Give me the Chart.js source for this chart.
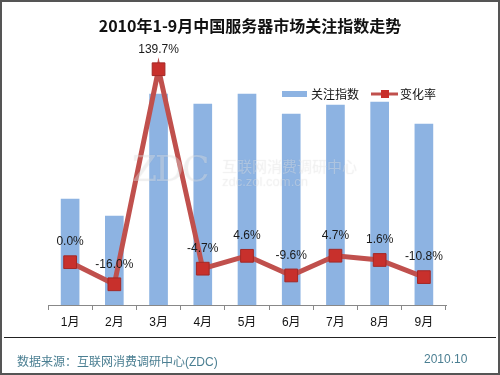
<!DOCTYPE html>
<html>
<head>
<meta charset="utf-8">
<script src="https://cdn.jsdelivr.net/npm/chart.js@4.4.0/dist/chart.umd.min.js"></script>
<style>
  html, body { margin: 0; padding: 0; background: #fff; }
  #box { position: relative; width: 500px; height: 375px; box-sizing: border-box; border: 2px solid #555; background: #fff; overflow: hidden; }
  #chart1 { position: absolute; left: 0; top: 0; }
  .txt { position: absolute; white-space: nowrap; font-family: "Liberation Sans", "Noto Sans CJK SC", sans-serif; }
  #title { left: 0; width: 496px; top: 11px; text-align: center; font-size: 16px; font-weight: bold; color: #111; font-family: "Noto Sans CJK SC", sans-serif; }
  #sep { position: absolute; left: 2px; top: 335px; width: 492px; height: 0; border-top: 1px solid #222; }
  #src { left: 15px; top: 350px; font-size: 12px; color: #4b7f92; }
  #date { left: 422px; top: 350px; font-size: 12px; color: #4b7f92; }
  .wm { color: rgba(255,255,255,0.35); text-shadow: 0 0 1px rgba(0,0,0,0.10); }
</style>
</head>
<body>
<div id="box">
  <canvas id="chart1" width="496" height="371"></canvas>
  <div class="txt wm" style="left:130px; top:146px; font-size:36px; font-family:'DejaVu Serif', serif; letter-spacing:-2px;">ZDC</div>
  <div class="txt wm" style="left:220px; top:153px; font-size:15px;">互联网消费调研中心</div>
  <div class="txt wm" style="left:220px; top:172px; font-size:13px;">zdc.zol.com.cn</div>
  <div id="title" class="txt">2010年1-9月中国服务器市场关注指数走势</div>
  <div id="sep"></div>
  <div id="src" class="txt">数据来源：互联网消费调研中心(ZDC)</div>
  <div id="date" class="txt">2010.10</div>
</div>
<script>
// months, index values and change rates
const meses = ['1月', '2月', '3月', '4月', '5月', '6月', '7月', '8月', '9月'];
const indice = [106, 89, 211, 201, 211, 191, 200, 203, 181];
const tasa = [0.0, -16.0, 139.7, -4.7, 4.6, -9.6, 4.7, 1.6, -10.8];
const etiquetas = ['0.0%', '-16.0%', '139.7%', '-4.7%', '4.6%', '-9.6%', '4.7%', '1.6%', '-10.8%'];

const azul = '#8db3e2';
const rojo = '#c0504d';

// percentage labels above the line points
const labelsPlugin = {
  id: 'labelsPlugin',
  afterDatasetsDraw(chart) {
    const ctx = chart.ctx;
    const meta = chart.getDatasetMeta(1);
    ctx.save();
    ctx.font = '12px "Liberation Sans", sans-serif';
    ctx.fillStyle = '#1a1a1a';
    ctx.textAlign = 'center';
    ctx.textBaseline = 'middle';
    meta.data.forEach((pt, i) => {
      ctx.fillText(etiquetas[i], pt.x, pt.y - 20);
    });
    ctx.restore();
  }
};

// legend drawn inside the plot, top right
const legendPlugin = {
  id: 'legendPlugin',
  afterDraw(chart) {
    const ctx = chart.ctx;
    const y = 92;
    ctx.save();
    ctx.fillStyle = azul;
    ctx.fillRect(280, y - 3, 25, 6);
    ctx.font = '12px "Noto Sans CJK SC", sans-serif';
    ctx.fillStyle = '#111';
    ctx.textBaseline = 'middle';
    ctx.fillText('关注指数', 309, y);
    ctx.strokeStyle = rojo;
    ctx.lineWidth = 3;
    ctx.beginPath();
    ctx.moveTo(369, y);
    ctx.lineTo(396, y);
    ctx.stroke();
    ctx.fillStyle = '#c8302c';
    ctx.fillRect(379, y - 4, 8, 8);
    ctx.fillStyle = '#111';
    ctx.fillText('变化率', 398, y);
    ctx.restore();
  }
};

const ctx = document.getElementById('chart1').getContext('2d');
new Chart(ctx, {
  data: {
    labels: meses,
    datasets: [
      {
        type: 'bar',
        label: '关注指数',
        data: indice,
        backgroundColor: azul,
        barThickness: 18,
        yAxisID: 'y',
        order: 2
      },
      {
        type: 'line',
        label: '变化率',
        data: tasa,
        borderColor: rojo,
        borderWidth: 5,
        pointStyle: 'rect',
        pointRadius: 9,
        pointBackgroundColor: '#c8302c',
        pointBorderColor: '#a32826',
        pointBorderWidth: 1,
        tension: 0,
        yAxisID: 'y1',
        order: 1
      }
    ]
  },
  options: {
    responsive: false,
    animation: false,
    events: [],
    layout: { padding: { left: 46, right: 52, top: 53, bottom: 38 } },
    plugins: {
      legend: { display: false },
      tooltip: { enabled: false },
      title: { display: false }
    },
    scales: {
      x: {
        offset: true,
        grid: { display: true, offset: true, drawOnChartArea: false, drawTicks: true, tickLength: 5, color: '#888' },
        border: { display: true, color: '#888', width: 1 },
        ticks: { color: '#111', padding: 5, font: { size: 12, family: '"Liberation Sans", "Noto Sans CJK SC", sans-serif' } },
        afterFit(scale) { scale.height = 30; }
      },
      y: { display: false, min: 0, max: 250 },
      y1: { display: false, min: -31, max: 150 }
    }
  },
  plugins: [labelsPlugin, legendPlugin]
});
</script>
</body>
</html>
